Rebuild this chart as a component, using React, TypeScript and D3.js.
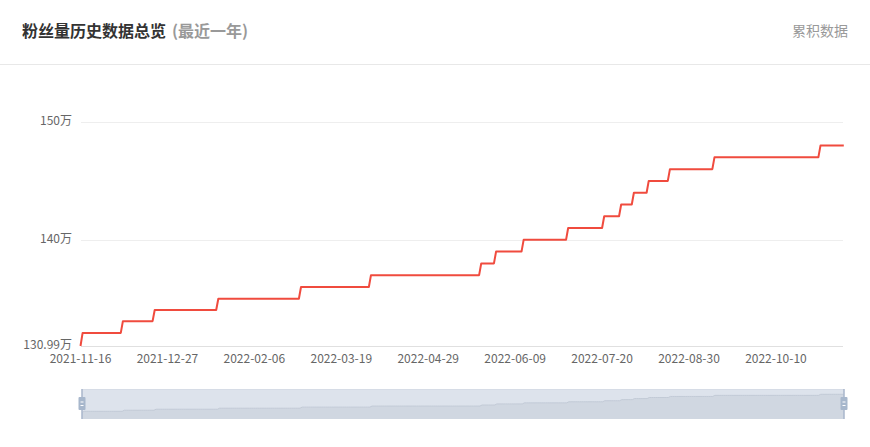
import React from "react";
import * as d3 from "d3";

// ---- data ----
const startDate = "2021-11-16";
const totalDays = 361; // 2021-11-16 .. 2022-11-11
// day index where follower count (万) changes, and the new value
const changeDays = [0, 1, 20, 35, 65, 104, 137, 189, 196, 209, 230, 247, 255, 261, 268, 278, 299, 349];
const changeValues = [130.99, 132.1, 133.1, 134.05, 135, 136, 137, 138, 139, 140, 141, 142, 143, 144, 145, 146, 147, 148];
const xTickLabels = ["2021-11-16", "2021-12-27", "2022-02-06", "2022-03-19", "2022-04-29", "2022-06-09", "2022-07-20", "2022-08-30", "2022-10-10"];
const yTicks = [130.99, 140, 150];
const yTickLabels = ["130.99万", "140万", "150万"];

const title = "粉丝量历史数据总览";
const subtitle = "(最近一年)";
const rightLabel = "累积数据";

// daily series (value held until next change)
const parse = d3.utcParse("%Y-%m-%d");
const fmt = d3.utcFormat("%Y-%m-%d");
const start = parse(startDate) as Date;
const dates: string[] = [];
const values: number[] = [];
{
  let k = 0;
  for (let i = 0; i < totalDays; i++) {
    while (k + 1 < changeDays.length && changeDays[k + 1] <= i) k++;
    dates.push(fmt(d3.utcDay.offset(start, i)));
    values.push(changeValues[k]);
  }
}

const W = 870;
const H = 447;
const FONT = "'Noto Sans CJK SC', 'Noto Sans', sans-serif";

export default function App() {
  const x = d3.scaleLinear().domain([0, totalDays - 1]).range([80.5, 843.8]);
  const y = d3.scaleLinear().domain([130.99, 150]).range([346, 122]);
  const gridX0 = 81;
  const gridX1 = 843;

  const line = d3
    .line<number>()
    .x((_, i) => x(i))
    .y((d) => y(d));

  // slider
  const sTop = 389;
  const sBot = 419;
  const sx = d3.scaleLinear().domain([0, totalDays - 1]).range([82, 844]);
  const sy = d3.scaleLinear().domain([130.99, 148]).range([412.5, 394.3]);
  const shadowArea = d3
    .area<number>()
    .x((_, i) => sx(i))
    .y0(sBot)
    .y1((d) => sy(d));
  const shadowLine = d3
    .line<number>()
    .x((_, i) => sx(i))
    .y((d) => sy(d));

  const handle = (cx: number) => (
    <g>
      <line x1={cx} x2={cx} y1={sTop} y2={sBot} stroke="#a9b6cb" strokeWidth={1.5} />
      <rect x={cx - 3.5} y={397} width={7} height={13} fill="#a7b7cc" rx={1} />
      <line x1={cx - 1.5} x2={cx + 1.5} y1={402} y2={402} stroke="#fff" strokeWidth={1} />
      <line x1={cx - 1.5} x2={cx + 1.5} y1={405.5} y2={405.5} stroke="#fff" strokeWidth={1} />
    </g>
  );

  return (
    <div style={{ position: "fixed", left: 0, top: 0, width: W, height: H, background: "#fff" }}>
      <svg width={W} height={H} style={{ display: "block", fontFamily: FONT }}>
        {/* header */}
        <text x={22} y={37} fontSize={16} fontWeight={700} fill="#333">
          {title}
          <tspan dx={6} fill="#999">{subtitle}</tspan>
        </text>
        <text x={848} y={36} fontSize={14} fill="#999" textAnchor="end">
          {rightLabel}
        </text>
        <line x1={0} x2={W} y1={64.5} y2={64.5} stroke="#e8e8e8" strokeWidth={1} />

        {/* grid */}
        {yTicks.map((t, i) => (
          <g key={t}>
            <line
              x1={gridX0}
              x2={gridX1}
              y1={Math.round(y(t)) + 0.5}
              y2={Math.round(y(t)) + 0.5}
              stroke={i === 0 ? "#e0e0e0" : "#eeeeee"}
              strokeWidth={1}
            />
            <text x={72} y={y(t) - 1} dy="0.35em" fontSize={12} fill="#666" textAnchor="end">
              {yTickLabels[i]}
            </text>
          </g>
        ))}
        {xTickLabels.map((lab) => {
          const idx = dates.indexOf(lab);
          return (
            <text key={lab} x={x(idx)} y={363} fontSize={12} fill="#666" textAnchor="middle">
              {lab}
            </text>
          );
        })}

        {/* series */}
        <path d={line(values) || ""} fill="none" stroke="#f04b3e" strokeWidth={2} strokeLinejoin="round" />

        {/* data zoom slider */}
        <rect x={82} y={sTop} width={762} height={sBot - sTop} fill="#dde3ec" />
        <path d={shadowArea(values) || ""} fill="#d0d7e1" />
        <path d={shadowLine(values) || ""} fill="none" stroke="#c2cad6" strokeWidth={1} />
        <line x1={82} x2={844} y1={sTop + 0.5} y2={sTop + 0.5} stroke="#d6dce6" strokeWidth={1} />
        {handle(82)}
        {handle(844)}
      </svg>
    </div>
  );
}
